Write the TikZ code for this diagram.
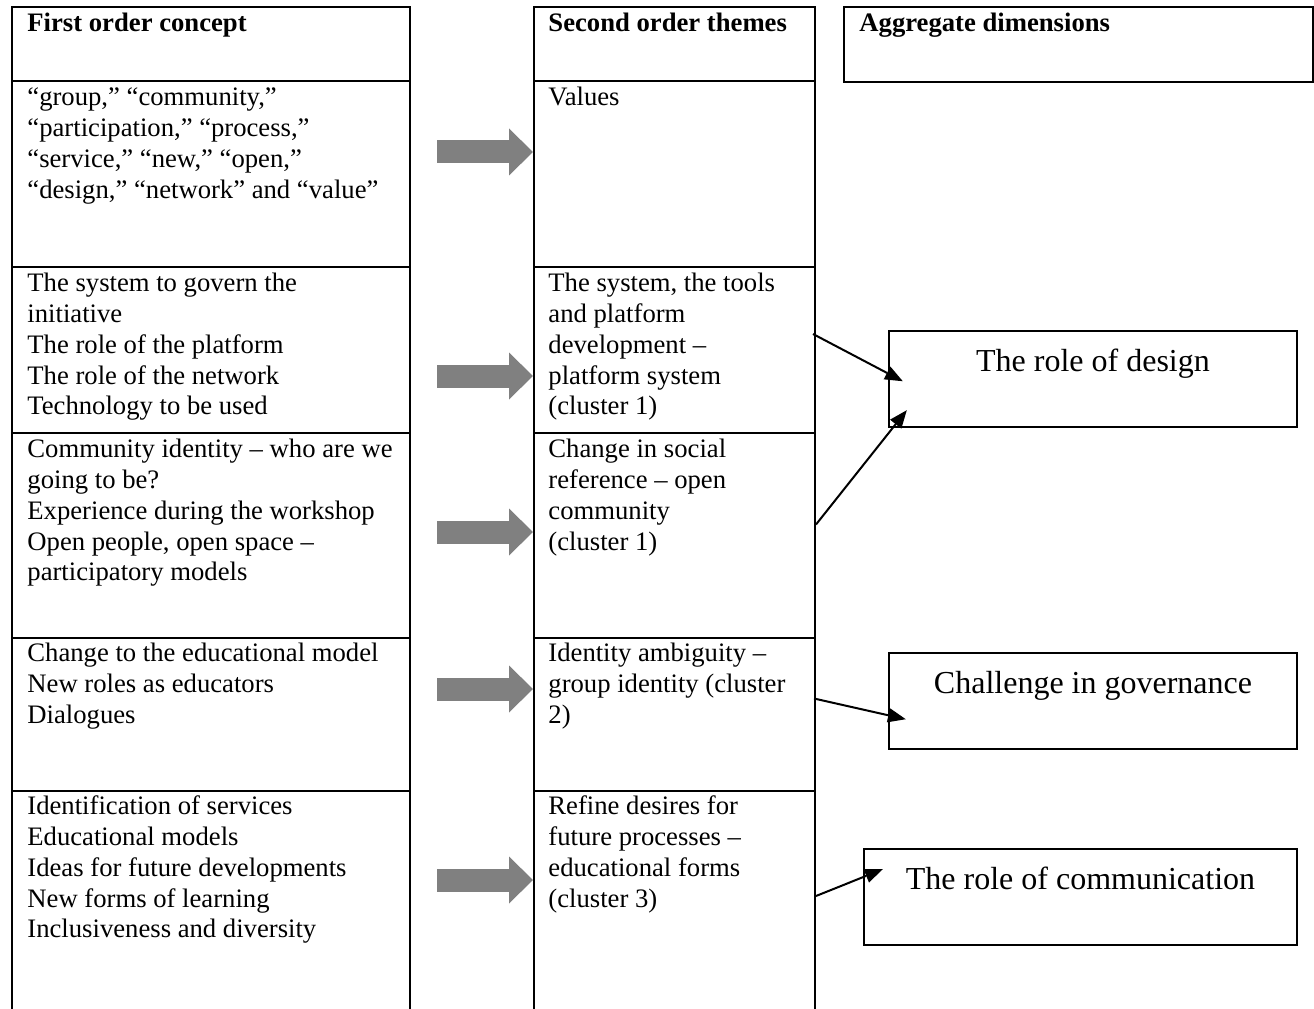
\documentclass[tikz,border=0pt]{standalone}
\usepackage{fontspec}
\setmainfont{Liberation Serif}
\usetikzlibrary{arrows.meta,calc}

\definecolor{arrowgray}{RGB}{128,128,128}
\newcommand\cellstrut{\rule{0pt}{10.5pt}}

\begin{document}
\begin{tikzpicture}
[x=0.45pt, y=-0.45pt,
 firstcell/.style={draw, line width=0.9pt, anchor=north west, inner sep=0pt, minimum width=179.1pt},
 secondcell/.style={draw, line width=0.9pt, anchor=north west, inner sep=0pt, minimum width=126.45pt},
 celltext/.style={anchor=north west, inner sep=0pt, align=left, font=\fontsize{12}{13.84}\selectfont},
 headtext/.style={anchor=base west, inner sep=0pt, font=\fontsize{12}{13.84}\selectfont\bfseries},
 dimbox/.style={draw, line width=1.1pt, anchor=north, inner sep=0pt, text height=18pt, text depth=25.2pt, font=\fontsize{14.4}{16.5}\selectfont},
 blockarrow/.style={draw=arrowgray, line width=10.35pt, -{Triangle[length=10.8pt, width=21.15pt, line width=0pt]}},
 thinarrow/.style={draw, line width=0.9pt, -{Triangle[length=8pt, width=6.5pt, line width=0pt]}}]
\useasboundingbox (0,0) rectangle (1314,1009);
\clip (0,0) rectangle (1314,1009);
% table cells
\node[firstcell, minimum height=33.3pt] (fhead) at (11,6) {};
\node[secondcell, minimum height=33.3pt] (shead) at (533,6) {};
\node[firstcell, minimum height=83.7pt] (f1) at (11,80) {};
\node[secondcell, minimum height=83.7pt] (s1) at (533,80) {};
\node[firstcell, minimum height=74.7pt] (f2) at (11,266) {};
\node[secondcell, minimum height=74.7pt] (s2) at (533,266) {};
\node[firstcell, minimum height=92.25pt] (f3) at (11,432) {};
\node[secondcell, minimum height=92.25pt] (s3) at (533,432) {};
\node[firstcell, minimum height=68.85pt] (f4) at (11,637) {};
\node[secondcell, minimum height=68.85pt] (s4) at (533,637) {};
\node[firstcell, minimum height=108pt] (f5) at (11,790) {};
\node[secondcell, minimum height=108pt] (s5) at (533,790) {};
\node[draw, line width=1.1pt, anchor=north west, inner sep=0pt, minimum width=211.05pt, minimum height=33.75pt] (aggr) at (843,6) {};
% headings
\node[headtext] (fheadtext) at ($(fhead.north west)+(16,26)$) {First order concept};
\node[headtext] (sheadtext) at ($(shead.north west)+(15,26)$) {Second order themes};
\node[headtext] (aggrtext) at ($(aggr.north west)+(16,26)$) {Aggregate dimensions};
% first order concepts
\node[celltext] (ftext1) at ($(f1.north west)+(16,2)$) {\cellstrut“group,” “community,”\\“participation,” “process,”\\“service,” “new,” “open,”\\“design,” “network” and “value”};
\node[celltext] (ftext2) at ($(f2.north west)+(16,2)$) {\cellstrut The system to govern the\\initiative\\The role of the platform\\The role of the network\\Technology to be used};
\node[celltext] (ftext3) at ($(f3.north west)+(16,2)$) {\cellstrut Community identity – who are we\\going to be?\\Experience during the workshop\\Open people, open space –\\participatory models};
\node[celltext] (ftext4) at ($(f4.north west)+(16,1)$) {\cellstrut Change to the educational model\\New roles as educators\\Dialogues};
\node[celltext] (ftext5) at ($(f5.north west)+(16,1)$) {\cellstrut Identification of services\\Educational models\\Ideas for future developments\\New forms of learning\\Inclusiveness and diversity};
% second order themes
\node[celltext] (stext1) at ($(s1.north west)+(15,2)$) {\cellstrut Values};
\node[celltext] (stext2) at ($(s2.north west)+(15,2)$) {\cellstrut The system, the tools\\and platform\\development –\\platform system\\(cluster 1)};
\node[celltext] (stext3) at ($(s3.north west)+(15,2)$) {\cellstrut Change in social\\reference – open\\community\\(cluster 1)};
\node[celltext] (stext4) at ($(s4.north west)+(15,1)$) {\cellstrut Identity ambiguity –\\group identity (cluster\\2)};
\node[celltext] (stext5) at ($(s5.north west)+(15,1)$) {\cellstrut Refine desires for\\future processes –\\educational forms\\(cluster 3)};
% aggregate dimensions
\node[dimbox, minimum width=183.6pt] (design) at (1093,330) {The role of design};
\node[dimbox, minimum width=183.6pt] (govern) at (1093,652) {Challenge in governance};
\node[dimbox, minimum width=194.85pt] (comm) at (1080.5,848) {The role of communication};
% grey arrows
\coordinate (b1) at (437,152);
\coordinate (b2) at (437,376);
\coordinate (b3) at (437,532);
\coordinate (b4) at (437,689);
\coordinate (b5) at (437,880);
\draw[blockarrow] (b1) -- (b1 -| s1.west);
\draw[blockarrow] (b2) -- (b2 -| s2.west);
\draw[blockarrow] (b3) -- (b3 -| s3.west);
\draw[blockarrow] (b4) -- (b4 -| s4.west);
\draw[blockarrow] (b5) -- (b5 -| s5.west);
% links to dimensions
\draw[thinarrow] ($(s2.east)+(-3,-16)$) -- ($(design.west)+(15,2)$);
\draw[thinarrow] ($(s3.east)+(0,-11)$) -- ($(design.west)+(19,31)$);
\draw[thinarrow] ($(s4.east)+(-2,-16)$) -- ($(govern.west)+(18,18)$);
\draw[thinarrow] ($(s5.east)+(0,-15)$) -- ($(comm.west)+(20,-28)$);
\end{tikzpicture}
\end{document}
